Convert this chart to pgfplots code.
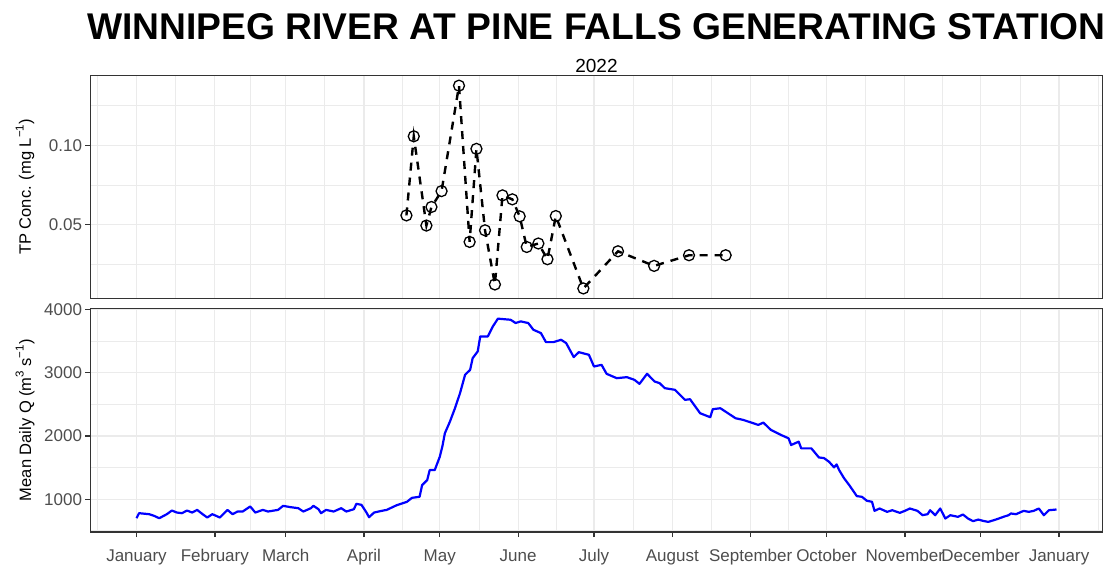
\documentclass[border=0pt]{standalone}
\usepackage{fontspec}
\setmainfont{Liberation Sans}
\usepackage{pgfplots}
\usepackage{pgfplotstable}
\pgfplotsset{compat=1.18}
\definecolor{gridc}{HTML}{EBEBEB}
\definecolor{framec}{HTML}{333333}
\definecolor{tickc}{HTML}{4D4D4D}

\pgfplotstableread{
day tp
106.8 0.0559
109.7 0.1057
114.7 0.0495
116.7 0.0612
120.7 0.0712
127.6 0.1376
131.8 0.0392
134.5 0.0978
137.9 0.0465
141.8 0.0124
144.8 0.0685
148.7 0.0660
151.6 0.0553
154.4 0.0360
159.0 0.0382
162.6 0.0283
165.9 0.0555
176.8 0.0099
190.5 0.0333
204.8 0.0241
218.6 0.0308
233.1 0.0308
}\tpdata

\pgfplotstableread{
day q
0 698
1 778
5 762
7 735
9 698
12 762
14 820
16 788
18 778
20 820
22 788
24 830
26 767
28 709
30 762
33 709
34 751
36 830
38 762
40 804
42 804
45 884
47 788
50 830
52 804
56 830
58 894
61 873
64 857
66 804
69 857
70 894
72 841
73 778
75 830
78 804
81 857
83 804
86 841
87 926
89 910
91 788
92 714
94 788
97 815
99 830
103 905
107 958
109 1021
112 1037
113 1222
115 1301
116 1460
118 1460
120 1672
121 1831
122 2042
124 2227
126 2439
128 2677
130 2968
132 3047
133 3232
135 3338
136 3576
139 3576
141 3735
143 3857
148 3840
150 3788
152 3814
155 3788
157 3682
160 3629
162 3486
165 3486
168 3523
170 3470
173 3248
175 3327
179 3285
181 3100
184 3126
186 2984
190 2915
194 2931
197 2889
199 2825
202 2984
205 2862
207 2836
209 2757
213 2731
217 2572
219 2582
223 2360
227 2297
228 2424
231 2439
233 2387
237 2281
240 2255
244 2202
246 2175
248 2212
251 2096
255 2016
258 1963
259 1857
262 1910
263 1804
267 1804
270 1660
272 1650
274 1592
276 1503
277 1550
278 1460
280 1328
282 1222
285 1048
287 1037
289 974
291 958
292 815
294 852
297 799
299 825
302 783
304 815
306 852
309 815
311 746
313 762
314 825
316 746
318 852
319 773
320 693
322 746
325 720
327 757
329 693
331 651
333 677
335 656
337 640
340 677
343 720
345 746
346 773
348 762
351 815
353 799
355 815
357 852
359 746
361 825
364 836
}\qdata

\pgfplotsset{
  common/.style={
    scale only axis, width=1012pt,
    xmin=-18.2, xmax=382.2,
    xtick={0,31,59,90,120,151,181,212,243,273,304,334,365},
    minor xtick={-15.5,15.5,45,74.5,105,135.5,166,196.5,227.5,258,288.5,319,349.5,380.5},
    grid=both,
    major grid style={draw=gridc, line width=1.2pt},
    minor grid style={draw=gridc, line width=0.6pt},
    axis line style={draw=framec, line width=1.4pt},
    tick pos=left, tick align=outside,
    major tick length=5pt, minor tick length=0pt,
    tick style={draw=framec, line width=1.3pt},
    tick label style={font=\fontsize{17}{17}\selectfont, text=tickc},
    ylabel style={font=\fontsize{16.5}{16.5}\selectfont, at={(axis description cs:-0.0647,0.5)}, anchor=center},
  }
}

\begin{document}
\begin{tikzpicture}

\begin{axis}[common,
  at={(90.5pt,265.4pt)}, anchor=south west,
  height=223.1pt,
  ymin=0.0035, ymax=0.144,
  ytick={0.05,0.1}, yticklabels={0.05,0.10},
  minor ytick={0.025,0.075,0.125},
  xticklabels={}, xmajorticks=false,
  ylabel={TP Conc. (mg L\raisebox{0.45em}{\fontsize{11.5}{11.5}\selectfont −1})},
]
\addplot[black, line width=2.4pt, dash pattern=on 8pt off 7pt,
  mark=o, mark size=5.5pt, mark options={solid, draw=black, line width=1.3pt}]
  table[x=day, y=tp] {\tpdata};
\end{axis}

\begin{axis}[common,
  at={(90.5pt,32pt)}, anchor=south west,
  height=223.5pt,
  ymin=480, ymax=4018,
  ytick={1000,2000,3000,4000}, yticklabels={1000,2000,3000,4000},
  minor ytick={500,1500,2500,3500},
  xticklabels={January,February,March,April,May,June,July,August,September,October,November,December,January},
  xticklabel style={yshift=-9pt},
  ylabel={Mean Daily Q (m\raisebox{0.45em}{\fontsize{11.5}{11.5}\selectfont 3} s\raisebox{0.45em}{\fontsize{11.5}{11.5}\selectfont −1})},
]
\addplot[blue, line width=2.2pt, line join=round] table[x=day, y=q] {\qdata};
\end{axis}

\node[anchor=base, font=\fontsize{37.2}{37.2}\selectfont\bfseries] at (596.5pt,524pt) {WINNIPEG RIVER AT PINE FALLS GENERATING STATION};
\node[anchor=base, font=\fontsize{19}{19}\selectfont] at (596.5pt,491pt) {2022};
\path (0,0) rectangle (1109pt,564pt);
\end{tikzpicture}
\end{document}
